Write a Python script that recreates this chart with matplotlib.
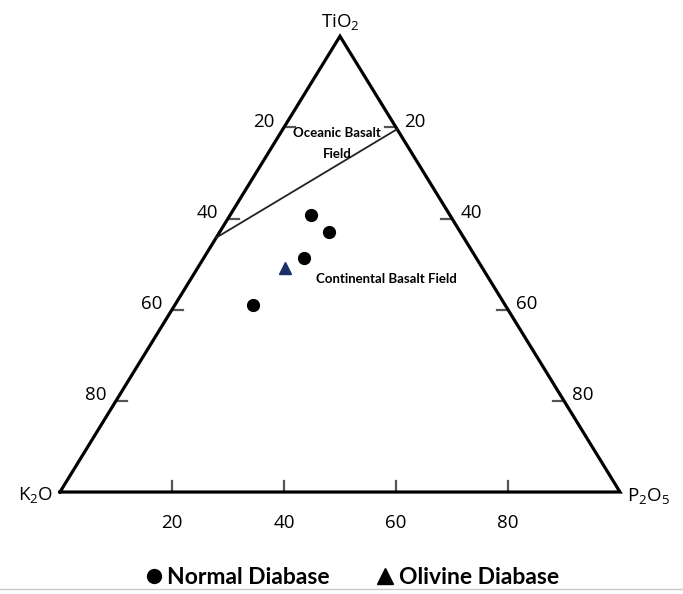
import numpy as np
import matplotlib
matplotlib.use('Agg')
import matplotlib.pyplot as plt
from matplotlib.lines import Line2D

plt.rcParams['font.family'] = ['Open Sans', 'DejaVu Sans']
plt.rcParams['mathtext.fontset'] = 'custom'
plt.rcParams['mathtext.rm'] = 'Open Sans'
plt.rcParams['mathtext.it'] = 'Open Sans'
BOLD = ['Lato', 'DejaVu Sans']   # bold face that is not condensed

# ── Data (wt%, TiO2 / K2O / P2O5) ─────────────────────────────────────────────
normal_tio2 = [60.7, 57.1, 51.3, 41.0]
normal_k2o  = [24.9, 23.4, 30.7, 45.1]
normal_p2o5 = [14.4, 19.5, 18.0, 13.9]

olivine_tio2 = [49.1]
olivine_k2o  = [35.2]
olivine_p2o5 = [15.7]

# oceanic / continental boundary
bound_tio2 = [55.8, 79.6]
bound_k2o  = [44.2, 0.0]
bound_p2o5 = [0.0, 20.4]

tick_vals = [20, 40, 60, 80]

# ── Ternary -> cartesian (K2O left, P2O5 right, TiO2 top) ─────────────────────
H = 81.4   # triangle height (the original is a bit squashed)

def tern(t, k, p):
    t, k, p = np.asarray(t, float), np.asarray(k, float), np.asarray(p, float)
    s = t + k + p
    t, p = t / s, p / s
    return 100 * (p + t / 2), H * t

fig = plt.figure(figsize=(6.83, 5.94), dpi=100)
ax = fig.add_axes([0, 0, 1, 1])
ax.set_xlim(-10.71, 111.25)
ax.set_ylim(-18.21, 87.86)
ax.axis('off')

# triangle frame
fx, fy = tern([0, 0, 100, 0], [100, 0, 0, 100], [0, 100, 0, 0])
ax.plot(fx, fy, color='black', lw=2.3, solid_joinstyle='miter', zorder=2)

# ticks + labels
for v in tick_vals:
    f = v / 100
    # left side (TiO2 -> K2O)
    x, y = tern(1 - f, f, 0)
    ax.plot([x, x + 2.0], [y, y], color='#555555', lw=1.6, zorder=1)
    ax.annotate(str(v), (x, y), xytext=(-7, 4), textcoords='offset points',
                ha='right', va='center', fontsize=13.5)
    # right side (TiO2 -> P2O5)
    x, y = tern(1 - f, 0, f)
    ax.plot([x - 2.0, x], [y, y], color='#555555', lw=1.6, zorder=1)
    ax.annotate(str(v), (x, y), xytext=(6, 4), textcoords='offset points',
                ha='left', va='center', fontsize=13.5)
    # bottom (K2O -> P2O5)
    x, y = tern(0, 1 - f, f)
    ax.plot([x, x], [y, y + 2.0], color='#555555', lw=1.6, zorder=1)
    ax.annotate(str(v), (x, y), xytext=(0, -22), textcoords='offset points',
                ha='center', va='center', fontsize=13.5)

# vertex labels
x, y = tern(100, 0, 0)
ax.annotate('TiO$_2$', (x, y), xytext=(0, 10), textcoords='offset points',
            ha='center', va='center', fontsize=13.5)
x, y = tern(0, 100, 0)
ax.annotate('K$_2$O', (x, y), xytext=(-5, -2), textcoords='offset points',
            ha='right', va='center', fontsize=13.5)
x, y = tern(0, 0, 100)
ax.annotate('P$_2$O$_5$', (x, y), xytext=(5, -3), textcoords='offset points',
            ha='left', va='center', fontsize=13.5)

# field boundary
bx, by = tern(bound_tio2, bound_k2o, bound_p2o5)
ax.plot(bx, by, color='#222222', lw=1.3, zorder=2)

# field labels
x, y = tern(78.8, 11.1, 10.1)
ax.text(x, y, 'Oceanic Basalt', fontsize=9.5, fontweight='bold', family=BOLD,
        ha='center', va='center')
x, y = tern(74.2, 13.4, 12.4)
ax.text(x, y, 'Field', fontsize=9.5, fontweight='bold', family=BOLD,
        ha='center', va='center')
x, y = tern(46.7, 18.3, 35.0)
ax.text(x, y, 'Continental Basalt Field', fontsize=9.5, fontweight='bold',
        family=BOLD, ha='center', va='center')

# samples
nx, ny = tern(normal_tio2, normal_k2o, normal_p2o5)
ax.plot(nx, ny, 'o', color='black', ms=8.5, zorder=4)
ox, oy = tern(olivine_tio2, olivine_k2o, olivine_p2o5)
ax.plot(ox, oy, '^', color='#1c2f66', ms=8, zorder=4)

# legend strip at the bottom
fig.add_artist(Line2D([0, 1], [1 - 589 / 594] * 2, transform=fig.transFigure,
                      color='#c8c8c8', lw=1, zorder=0))
handles = [Line2D([], [], marker='o', ls='', color='black', ms=10),
           Line2D([], [], marker='^', ls='', color='black', ms=11.5)]
fig.legend(handles, ['Normal Diabase', 'Olivine Diabase'], ncol=2, frameon=False,
           loc='center', bbox_to_anchor=(0.515, 1 - 578 / 594),
           prop={'size': 16.5, 'weight': 'bold', 'family': BOLD},
           handletextpad=0.2, columnspacing=2.0, handlelength=0.8,
           borderaxespad=0, borderpad=0)

fig.savefig('out.png', dpi=100, facecolor='white')
